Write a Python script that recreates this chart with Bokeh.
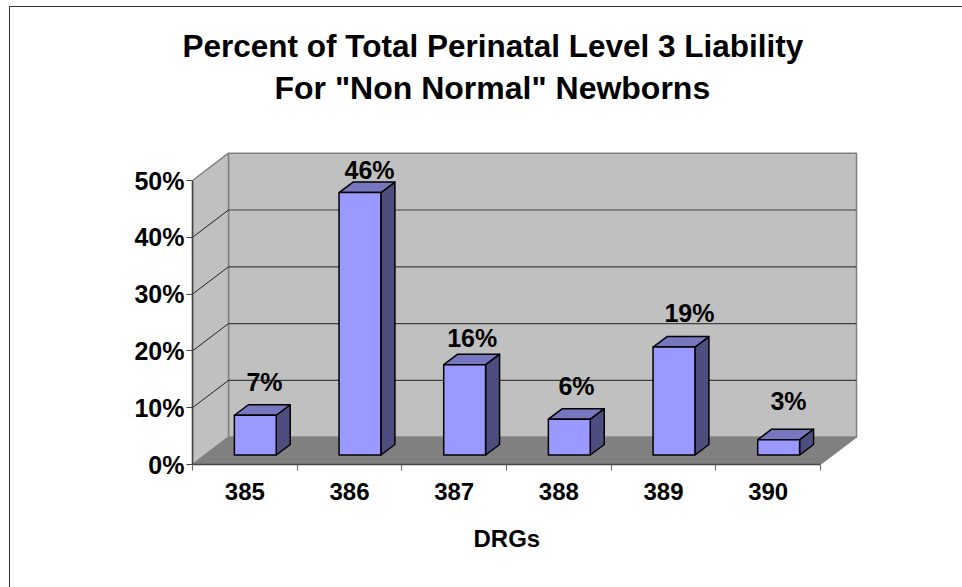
from bokeh.embed import file_html
from bokeh.resources import INLINE
from bokeh.plotting import figure
from bokeh.models import (Range1d, LinearAxis, FixedTicker, Title, PrintfTickFormatter, InlineStyleSheet)
from bokeh.core.properties import value

# ---- data ----
CATEGORIES = ["385", "386", "387", "388", "389", "390"]
PERCENTS = [7.0, 46.2, 15.9, 6.3, 19.0, 2.7]
BAR_LABELS = ["7%", "46%", "16%", "6%", "19%", "3%"]
Y_TICKS = [0, 10, 20, 30, 40, 50]
TITLE_LINES = ["Percent of Total Perinatal Level 3 Liability", 'For "Non Normal" Newborns']
X_TITLE = "DRGs"

# ---- 3D geometry, in axis units ----
PX_X = 104.67      # pixels per category
PX_Y = 5.68        # pixels per percent
WALL_DX = 36 / PX_X
WALL_DY = 27.3 / PX_Y
BAR_LEFT = 0.40
BAR_W = 0.40
BAR_DY0 = 9.5 / PX_Y
BAR_DX = 14 / PX_X
BAR_DY = 10.5 / PX_Y
LABEL_CX = [0.688, 1.691, 2.672, 3.669, 4.748, 5.694]   # label centres
LABEL_GAP = [23, 12, 16.5, 23, 24, 28]                  # px between bar top and label baseline
FONT = "Liberation Sans"

W, H = 962, 587
LEFT, BOTTOM = 192, 123
FRAME_R, FRAME_T = 858, 150

x_end = (FRAME_R - LEFT) / PX_X
y_end = (H - BOTTOM - FRAME_T) / PX_Y

# the chart-area border: its right and bottom edges lie off the page
border = InlineStyleSheet(css=""":host::before {content:""; position:absolute; left:9px; top:6px; right:-20px; bottom:-20px;
  border-left:1.5px solid #333; border-top:1.5px solid #333; pointer-events:none; z-index:5}
:host {overflow:hidden; position:relative}""")

p = figure(width=W, height=H, output_backend="svg", toolbar_location=None,
           x_range=Range1d(0, x_end), y_range=Range1d(0, y_end),
           x_axis_location=None, y_axis_location=None,
           min_border_left=LEFT, min_border_bottom=BOTTOM,
           min_border_right=W - FRAME_R, min_border_top=FRAME_T,
           outline_line_color=None, background_fill_color="white",
           margin=(0, 0, 0, 0), stylesheets=[border])
p.grid.visible = False

n = len(CATEGORIES)
top = Y_TICKS[-1]
WALL = "#C0C0C0"
EDGE = "#808080"

# walls and floor
p.patch([WALL_DX, n + WALL_DX, n + WALL_DX, WALL_DX],
        [WALL_DY, WALL_DY, top + WALL_DY, top + WALL_DY], fill_color=WALL, line_color=EDGE, line_width=1.5)
p.patch([0, WALL_DX, WALL_DX, 0], [0, WALL_DY, top + WALL_DY, top],
        fill_color=WALL, line_color=EDGE, line_width=1.5)
p.patch([0, n, n + WALL_DX, WALL_DX], [0, 0, WALL_DY, WALL_DY],
        fill_color="#808080", line_color="#808080", line_width=1)

# gridlines: back wall, then the side wall
g = Y_TICKS[1:-1]
p.segment([WALL_DX] * len(g), [v + WALL_DY for v in g], [n + WALL_DX] * len(g), [v + WALL_DY for v in g],
          line_color="#404040", line_width=1.2)
p.segment([0] * len(g), g, [WALL_DX] * len(g), [v + WALL_DY for v in g],
          line_color="#202020", line_width=1)

# bars
for i, v in enumerate(PERCENTS):
    x0, x1 = i + BAR_LEFT, i + BAR_LEFT + BAR_W
    y0, y1 = BAR_DY0, BAR_DY0 + v
    kw = dict(line_color="black", line_width=1.5, line_join="round")
    p.patch([x1, x1 + BAR_DX, x1 + BAR_DX, x1], [y0, y0 + BAR_DY, y1 + BAR_DY, y1], fill_color="#4D4D80", **kw)
    p.patch([x0, x1, x1 + BAR_DX, x0 + BAR_DX], [y1, y1, y1 + BAR_DY, y1 + BAR_DY], fill_color="#7777BF", **kw)
    p.patch([x0, x1, x1, x0], [y0, y0, y1, y1], fill_color="#9999FF", **kw)
    p.text([LABEL_CX[i]], [y1 + BAR_DY + LABEL_GAP[i] / PX_Y], text=[BAR_LABELS[i]],
           text_font=value(FONT), text_font_style="bold", text_font_size="25px",
           text_align="center", text_baseline="alphabetic", text_color="black")

# axes
yax = LinearAxis(ticker=FixedTicker(ticks=Y_TICKS), formatter=PrintfTickFormatter(format="%d%%"),
                 bounds=(0, top), axis_line_color="#444444", axis_line_width=1.6,
                 major_tick_line_color="#444444", major_tick_out=6, major_tick_in=0,
                 minor_tick_line_color=None, major_label_standoff=2,
                 major_label_text_font=FONT, major_label_text_font_style="bold",
                 major_label_text_font_size="25px", major_label_text_color="black")
p.add_layout(yax, "left")

xax = LinearAxis(ticker=FixedTicker(ticks=[i + 0.5 for i in range(n)], minor_ticks=list(range(n + 1))),
                 major_label_overrides={i + 0.5: c for i, c in enumerate(CATEGORIES)},
                 bounds=(0, n), axis_line_color="#444444", axis_line_width=1.6,
                 major_tick_line_color=None, minor_tick_line_color="#666666",
                 minor_tick_out=6, minor_tick_in=0, major_tick_out=6, major_tick_in=0, major_label_standoff=12,
                 major_label_text_font=FONT, major_label_text_font_style="bold",
                 major_label_text_font_size="24px", major_label_text_color="black")
p.add_layout(xax, "below")

p.add_layout(Title(text=X_TITLE, align="left", offset=473 - LEFT, standoff=40, text_font=FONT,
                   text_font_style="bold", text_font_size="24px", text_color="black"), "below")

# title (stacked upward from the frame)
p.add_layout(Title(text=TITLE_LINES[1], align="left", offset=274 - LEFT, standoff=90, text_font=FONT,
                   text_font_style="bold", text_font_size="32px", text_color="black"), "above")
p.add_layout(Title(text=TITLE_LINES[0], align="left", offset=182 - LEFT, standoff=-82, text_font=FONT,
                   text_font_style="bold", text_font_size="31.5px", text_color="black"), "above")

open("out.html", "w").write(file_html(p, INLINE))
